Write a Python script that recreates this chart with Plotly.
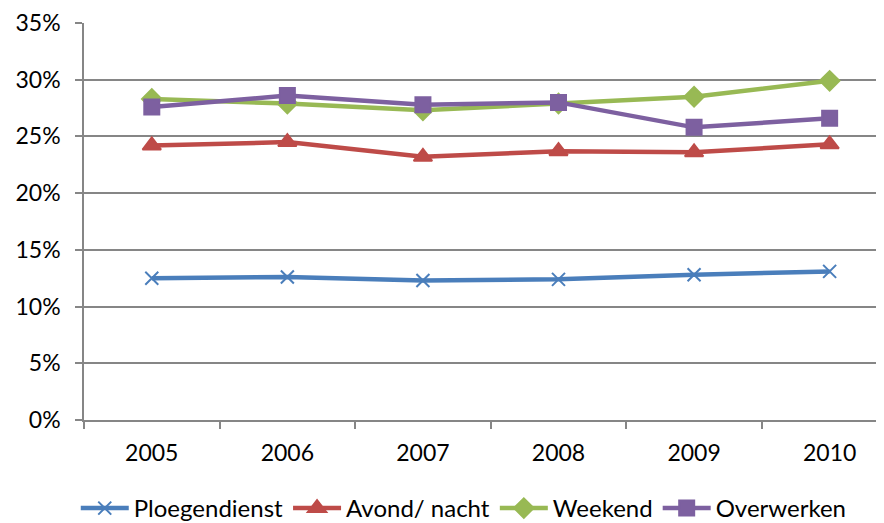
import plotly.graph_objects as go

years = ["2005", "2006", "2007", "2008", "2009", "2010"]
ploegendienst = [0.125, 0.126, 0.123, 0.124, 0.128, 0.131]
avond_nacht = [0.242, 0.245, 0.232, 0.237, 0.236, 0.243]
weekend = [0.283, 0.279, 0.273, 0.279, 0.285, 0.299]
overwerken = [0.276, 0.286, 0.278, 0.280, 0.258, 0.266]
y_ticks = [0, 0.05, 0.10, 0.15, 0.20, 0.25, 0.30, 0.35]

series = [
    ("Ploegendienst", ploegendienst, "#4A7EBB", "x-thin", 13),
    ("Avond/ nacht", avond_nacht, "#BE4B48", "triangle-up", 16),
    ("Weekend", weekend, "#98B954", "diamond", 15),
    ("Overwerken", overwerken, "#7D60A0", "square", 15),
]

fig = go.Figure()
for name, vals, color, sym, size in series:
    fig.add_trace(go.Scatter(
        x=years, y=vals, name=name, mode="lines+markers",
        line=dict(color=color, width=4.5),
        marker=dict(symbol=sym, size=size, color=color,
                    line=dict(color=color, width=2)),
    ))

font = "Lato, 'Open Sans', sans-serif"
fig.update_layout(
    width=884, height=523,
    margin=dict(l=76, r=0, t=15, b=110),
    paper_bgcolor="white", plot_bgcolor="white",
    font=dict(family=font, size=23, color="black"),
    showlegend=True,
    legend=dict(orientation="h", x=0.47, xanchor="center", y=-0.224, yanchor="middle",
                font=dict(size=24), itemwidth=48, tracegroupgap=0),
)
fig.update_xaxes(
    type="category", range=[-0.5, 5.46], automargin=False,
    showline=True, linecolor="#868686", linewidth=1.5,
    ticks="outside", tickson="boundaries", ticklen=7, tickcolor="#868686", tickwidth=1.5,
    ticklabelstandoff=12,
    showgrid=False, tickfont=dict(size=23),
)
fig.update_yaxes(
    range=[0, 0.35], tickvals=y_ticks, tickformat=".0%", automargin=False,
    showline=True, linecolor="#868686", linewidth=1.5,
    ticks="outside", ticklen=7, tickcolor="#868686", tickwidth=1.5,
    ticklabelstandoff=10,
    showgrid=True, gridcolor="#868686", gridwidth=1.5,
    zeroline=False, tickfont=dict(size=23),
)
fig.write_html("out.html")
